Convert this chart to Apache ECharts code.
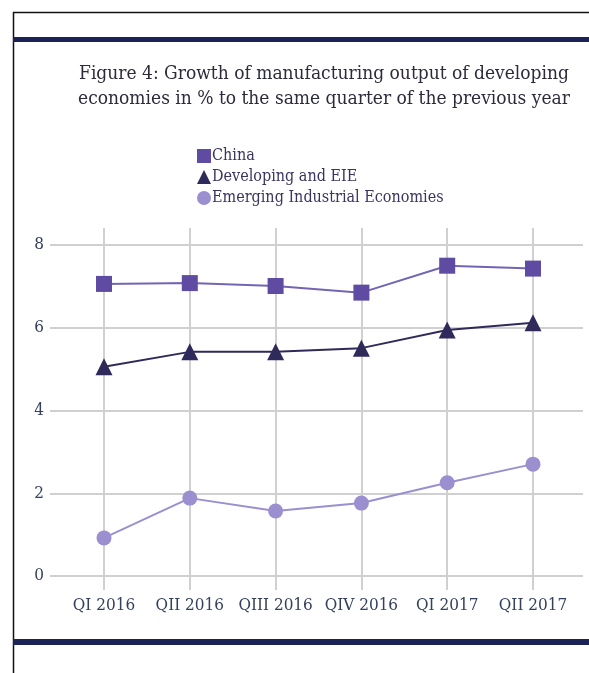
<!DOCTYPE html>
<html><head><meta charset="utf-8">
<script src="https://cdn.jsdelivr.net/npm/echarts@6/dist/echarts.min.js"></script>
<style>html,body{margin:0;padding:0;background:#fff}#c{width:589px;height:673px}</style>
</head><body><div id="c"></div>
<script>
const categories = ['QI 2016','QII 2016','QIII 2016','QIV 2016','QI 2017','QII 2017'];
const china = [7.05, 7.07, 7.0, 6.84, 7.49, 7.42];
const developing = [5.05, 5.41, 5.41, 5.5, 5.94, 6.11];
const emerging = [0.92, 1.88, 1.57, 1.76, 2.25, 2.7];
const yTicks = [0, 2, 4, 6, 8];

const serif = "'DejaVu Serif Condensed', 'DejaVu Serif', serif";
const chart = echarts.init(document.getElementById('c'));
chart.setOption({
  backgroundColor: '#fff',
  animation: false,
  title: {
    text: 'Figure 4: Growth of manufacturing output of developing\neconomies in % to the same quarter of the previous year',
    left: 319, top: 57, textAlign: 'center',
    textStyle: {fontFamily: serif, fontSize: 19, fontWeight: 'normal', color: '#2b2b3b', lineHeight: 25}
  },
  legend: {
    orient: 'vertical', left: 192, top: 143, itemGap: 5, itemWidth: 14, itemHeight: 14,
    textStyle: {fontFamily: serif, fontSize: 16, color: '#3a3560', padding: [0,0,0,-4]},
    data: [
      {name: 'China', icon: 'rect'},
      {name: 'Developing and EIE', icon: 'triangle'},
      {name: 'Emerging Industrial Economies', icon: 'circle'}
    ]
  },
  graphic: [
    {type: 'line', shape: {x1: 13, y1: 12.5, x2: 589, y2: 12.5}, style: {stroke: '#111', lineWidth: 1.5}},
    {type: 'line', shape: {x1: 13.5, y1: 12, x2: 13.5, y2: 673}, style: {stroke: '#111', lineWidth: 1.5}},
    {type: 'rect', shape: {x: 13, y: 37, width: 576, height: 5}, style: {fill: '#1a2256'}},
    {type: 'rect', shape: {x: 13, y: 639, width: 576, height: 6}, style: {fill: '#1a2256'}}
  ],
  grid: [
    {left: 50, right: 6, top: 245, bottom: 673 - 576, containLabel: false},
    {left: 104, right: 589 - 533, top: 228, bottom: 673 - 576, containLabel: false}
  ],
  xAxis: [
    {type: 'value', gridIndex: 0, show: false, min: 0, max: 1},
    {type: 'category', gridIndex: 1, data: categories, boundaryGap: false,
     axisLine: {show: false},
     axisTick: {show: true, length: 14, lineStyle: {color: '#d0d0d0', width: 2}},
     splitLine: {show: true, lineStyle: {color: '#d0d0d0', width: 2}},
     axisLabel: {margin: 21, fontFamily: serif, fontSize: 17, color: '#34405c', interval: 0}}
  ],
  yAxis: [
    {type: 'value', gridIndex: 0, min: 0, max: 8, interval: 2,
     axisLine: {show: false}, axisTick: {show: false},
     splitLine: {lineStyle: {color: '#d0d0d0', width: 2}},
     axisLabel: {margin: 6, fontFamily: serif, fontSize: 17, color: '#34405c',
       formatter: v => yTicks.includes(v) ? String(v) : ''}},
    {type: 'value', gridIndex: 1, min: 0, max: 8.4, show: false, splitLine: {show: false}}
  ],
  series: [
    {name: 'China', type: 'line', xAxisIndex: 1, yAxisIndex: 1, data: china,
     symbol: 'rect', symbolSize: 16, itemStyle: {color: '#5f4ba2'},
     lineStyle: {color: '#7464b4', width: 2}},
    {name: 'Developing and EIE', type: 'line', xAxisIndex: 1, yAxisIndex: 1, data: developing,
     symbol: 'triangle', symbolSize: 17, itemStyle: {color: '#2f2a5a'},
     lineStyle: {color: '#2f2a5a', width: 2}},
    {name: 'Emerging Industrial Economies', type: 'line', xAxisIndex: 1, yAxisIndex: 1, data: emerging,
     symbol: 'circle', symbolSize: 15, itemStyle: {color: '#9b8fd0'},
     lineStyle: {color: '#9b8fd0', width: 2}}
  ]
});
</script></body></html>
